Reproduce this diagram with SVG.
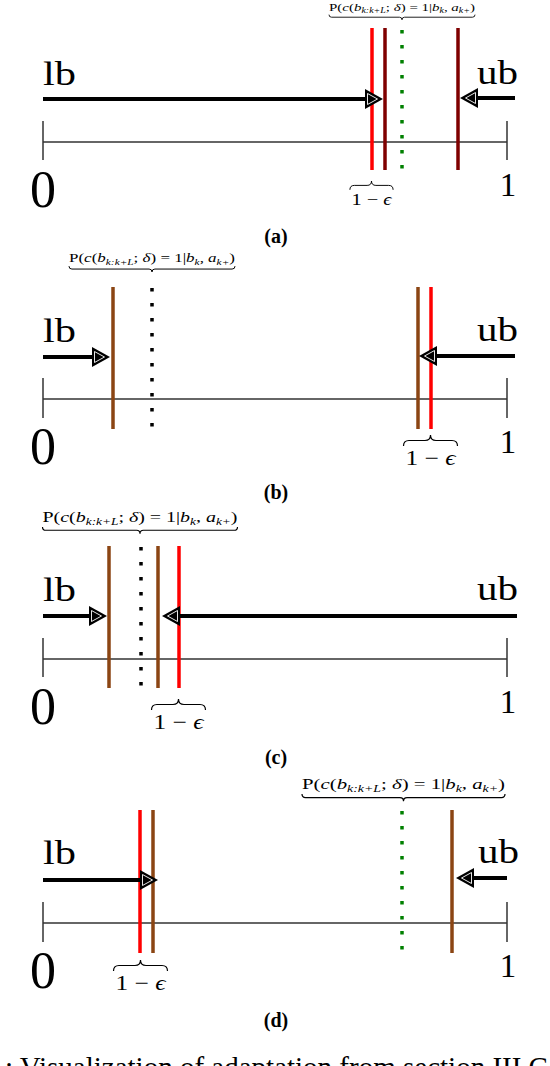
<svg xmlns="http://www.w3.org/2000/svg" xmlns:xlink="http://www.w3.org/1999/xlink" width="550" height="1066" viewBox="0 0 550 1066">
<style>
text{font-family:"Liberation Serif","Times New Roman",serif;fill:#000}
.big{font-size:33px}
.zero{font-size:52px}
.one{font-size:33px;text-anchor:middle}
.cap{font-size:20px;font-weight:bold;text-anchor:middle}
.axis{stroke:#333;stroke-width:1.5;fill:none}
.arr{stroke:#000;stroke-width:4;fill:none;marker-end:url(#ah)}
.red{stroke:#ff0000;stroke-width:3.5}
.dred{stroke:#7f0000;stroke-width:3.5}
.brown{stroke:#8b4513;stroke-width:3.5}
.gdot{stroke:#008000;stroke-width:3.5;stroke-dasharray:3.5 11.5}
.kdot{stroke:#000;stroke-width:3.5;stroke-dasharray:3.5 11.5}
.brace{stroke:#000;stroke-width:1.2;fill:none}
</style>
<defs>
<marker id="ah" markerUnits="userSpaceOnUse" viewBox="-1 -11 20 22" refX="8" refY="0" markerWidth="20" markerHeight="22" orient="auto">
<path d="M0,-10 L18,0 L0,10 Z" fill="#000"/>
<path d="M2.5,-5.5 L12.5,0 L2.5,5.5 Z" fill="none" stroke="#fff" stroke-width="0.9"/>
</marker>
<g id="plabel">
<text x="0" y="0" font-size="15" text-anchor="middle" textLength="200" lengthAdjust="spacingAndGlyphs">P(<tspan font-style="italic">c</tspan>(<tspan font-style="italic">b</tspan><tspan font-size="10" font-style="italic" dy="3">k:k+L</tspan><tspan dy="-3">; </tspan><tspan font-style="italic">δ</tspan>) = 1|<tspan font-style="italic">b</tspan><tspan font-size="10" font-style="italic" dy="3">k</tspan><tspan dy="-3">, </tspan><tspan font-style="italic">a</tspan><tspan font-size="10" font-style="italic" dy="3">k+</tspan><tspan dy="-3">)</tspan></text>
<path class="brace" d="M-100,5 q0,3.5 3.5,3.5 H-3.5 q3.5,0 3.5,3.5 q0,-3.5 3.5,-3.5 H96.5 q3.5,0 3.5,-3.5"/>
</g>
<g id="eps">
<path class="brace" d="M-27,11 q0,-5.5 5.5,-5.5 H-5.5 q5.5,0 5.5,-5.5 q0,5.5 5.5,5.5 H21.5 q5.5,0 5.5,5.5"/>
<text x="0" y="30" font-size="21" text-anchor="middle" textLength="50" lengthAdjust="spacingAndGlyphs">1 − <tspan font-style="italic">ϵ</tspan></text>
</g>
</defs>

<!-- Panel (a) -->
<g id="panel-a">
<line class="axis" x1="43" y1="142" x2="507" y2="142"/>
<line class="axis" x1="43" y1="121" x2="43" y2="160"/>
<line class="axis" x1="507" y1="121" x2="507" y2="160"/>
<text class="zero" x="30" y="207">0</text>
<text class="one" x="508" y="196">1</text>
<text class="big" x="43" y="85" textLength="33" lengthAdjust="spacingAndGlyphs">lb</text>
<text class="big" x="477" y="84" textLength="41" lengthAdjust="spacingAndGlyphs">ub</text>
<line class="red" x1="372" y1="28" x2="372" y2="170"/>
<line class="dred" x1="385" y1="28" x2="385" y2="170"/>
<line class="gdot" x1="402" y1="30" x2="402" y2="170"/>
<line class="dred" x1="458" y1="28" x2="458" y2="170"/>
<use xlink:href="#plabel" transform="translate(402,11) scale(0.73)"/>
<use xlink:href="#eps" transform="translate(371.5,181) scale(0.8)"/>
<text class="cap" x="276" y="243">(a)</text>
</g>

<!-- Panel (b) -->
<g id="panel-b">
<line class="axis" x1="43" y1="399" x2="507" y2="399"/>
<line class="axis" x1="43" y1="378" x2="43" y2="418"/>
<line class="axis" x1="507" y1="378" x2="507" y2="418"/>
<text class="zero" x="30" y="464">0</text>
<text class="one" x="508" y="453">1</text>
<text class="big" x="43" y="342" textLength="33" lengthAdjust="spacingAndGlyphs">lb</text>
<text class="big" x="477" y="341" textLength="41" lengthAdjust="spacingAndGlyphs">ub</text>
<line class="brown" x1="113" y1="287" x2="113" y2="429"/>
<line class="kdot" x1="152" y1="288" x2="152" y2="430"/>
<line class="brown" x1="418" y1="287" x2="418" y2="429"/>
<line class="red" x1="431" y1="287" x2="431" y2="429"/>
<use xlink:href="#plabel" transform="translate(152,262) scale(0.83)"/>
<use xlink:href="#eps" transform="translate(430.5,435)"/>
<text class="cap" x="276" y="499">(b)</text>
</g>

<!-- Panel (c) -->
<g id="panel-c">
<line class="axis" x1="43" y1="659" x2="507" y2="659"/>
<line class="axis" x1="43" y1="638" x2="43" y2="677"/>
<line class="axis" x1="507" y1="638" x2="507" y2="677"/>
<text class="zero" x="30" y="724">0</text>
<text class="one" x="508" y="713">1</text>
<text class="big" x="43" y="601" textLength="33" lengthAdjust="spacingAndGlyphs">lb</text>
<text class="big" x="477" y="600" textLength="41" lengthAdjust="spacingAndGlyphs">ub</text>
<line class="brown" x1="109" y1="546" x2="109" y2="688"/>
<line class="kdot" x1="141" y1="547" x2="141" y2="689"/>
<line class="brown" x1="158" y1="546" x2="158" y2="688"/>
<line class="red" x1="179" y1="546" x2="179" y2="688"/>
<use xlink:href="#plabel" transform="translate(140,522) scale(0.975)"/>
<use xlink:href="#eps" transform="translate(178.5,699)"/>
<text class="cap" x="276" y="764">(c)</text>
</g>

<!-- Panel (d) -->
<g id="panel-d">
<line class="axis" x1="43" y1="923" x2="507" y2="923"/>
<line class="axis" x1="43" y1="902" x2="43" y2="942"/>
<line class="axis" x1="507" y1="902" x2="507" y2="942"/>
<text class="zero" x="30" y="988">0</text>
<text class="one" x="508" y="977">1</text>
<text class="big" x="43" y="864" textLength="33" lengthAdjust="spacingAndGlyphs">lb</text>
<text class="big" x="478" y="863" textLength="41" lengthAdjust="spacingAndGlyphs">ub</text>
<line class="red" x1="140" y1="810" x2="140" y2="953"/>
<line class="brown" x1="153" y1="810" x2="153" y2="953"/>
<line class="gdot" x1="402" y1="811" x2="402" y2="953"/>
<line class="brown" x1="452" y1="810" x2="452" y2="953"/>
<use xlink:href="#plabel" transform="translate(403.5,789) scale(1.015)"/>
<use xlink:href="#eps" transform="translate(140.5,960)"/>
<text class="cap" x="276" y="1027">(d)</text>
</g>

<!-- Connectors (bound arrows) -->
<g id="connectors">
<line class="arr" x1="43" y1="99" x2="373" y2="99"/>
<line class="arr" x1="515" y1="98" x2="470" y2="98"/>
<line class="arr" x1="43" y1="357" x2="100" y2="357"/>
<line class="arr" x1="515" y1="356" x2="429" y2="356"/>
<line class="arr" x1="43" y1="616" x2="97" y2="616"/>
<line class="arr" x1="517" y1="616" x2="172" y2="616"/>
<line class="arr" x1="43" y1="880" x2="148" y2="880"/>
<line class="arr" x1="507" y1="878" x2="466" y2="878"/>
</g>

<text x="5" y="1077" font-size="29">: Visualization of adaptation from section III.C</text>
</svg>
